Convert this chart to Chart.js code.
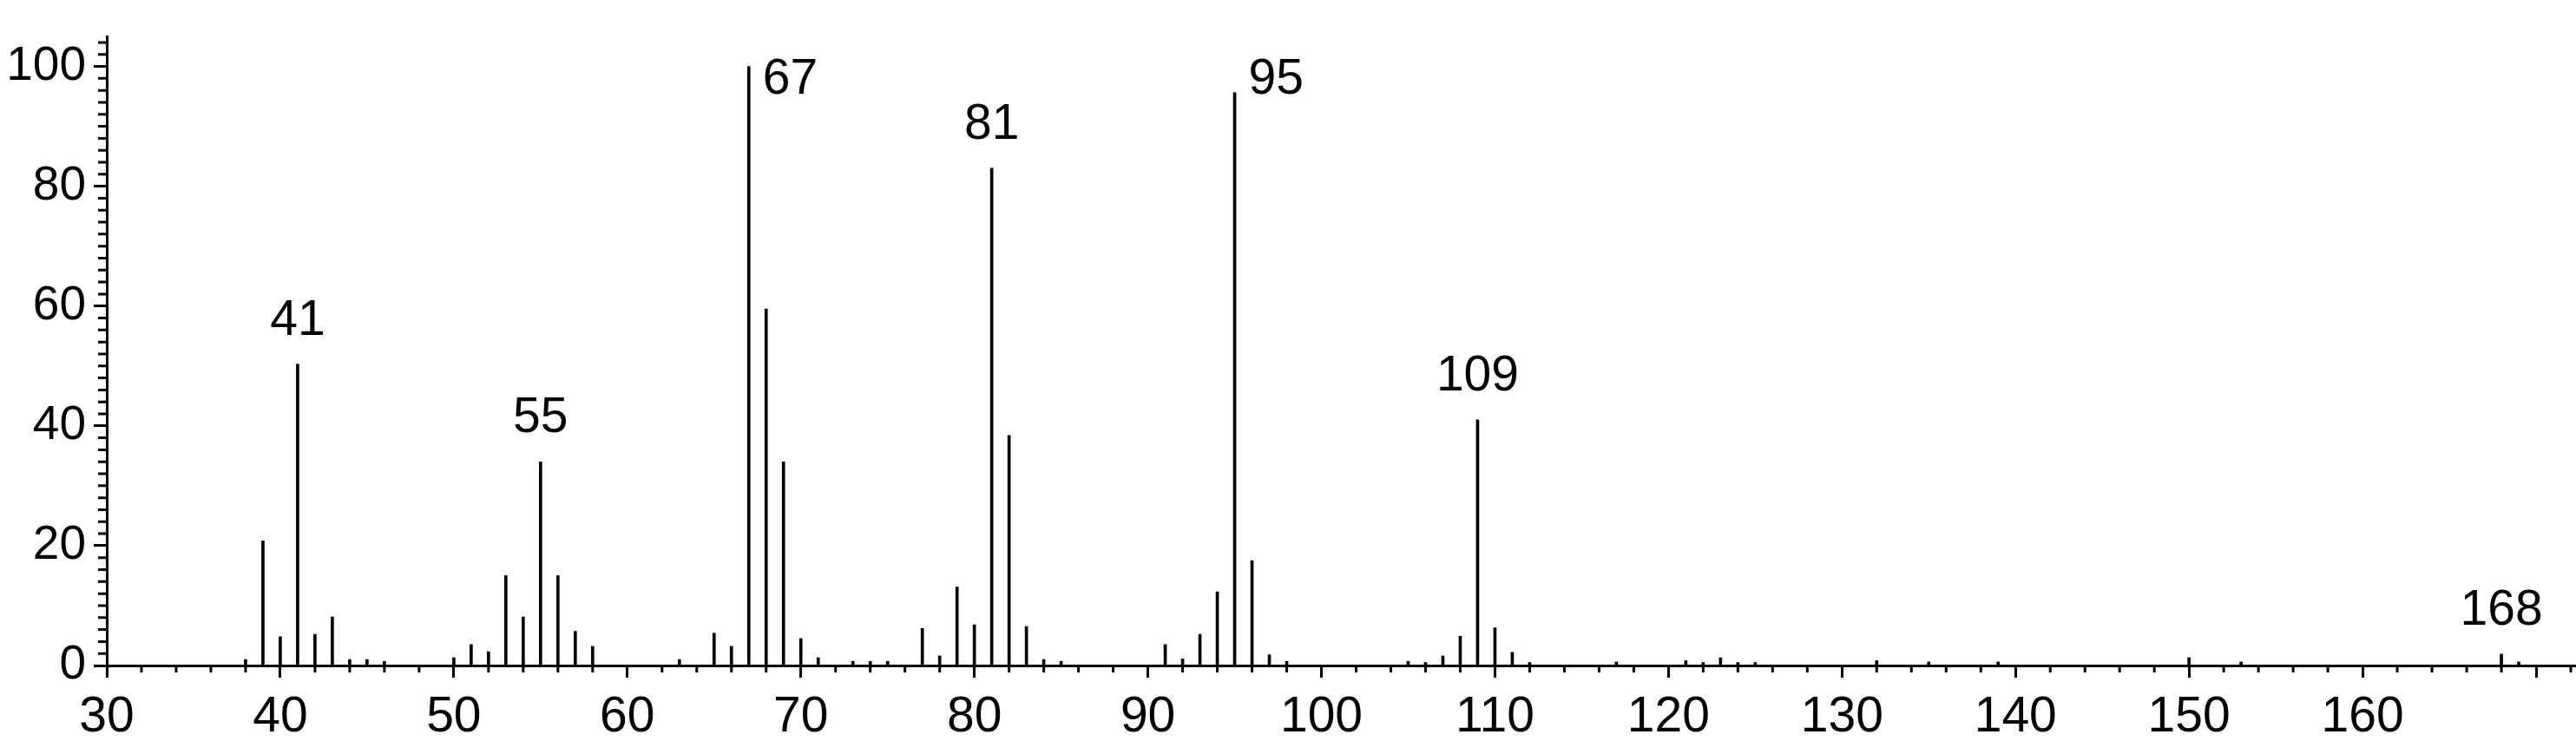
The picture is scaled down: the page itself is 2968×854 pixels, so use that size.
<!DOCTYPE html>
<html>
<head>
<meta charset="utf-8">
<title>Mass spectrum</title>
<script src="https://cdn.jsdelivr.net/npm/chart.js@4.4.0/dist/chart.umd.min.js"></script>
<style>
  html, body { margin: 0; padding: 0; background: #fff; }
  canvas { display: block; }
</style>
</head>
<body>
<canvas id="chart" width="2968" height="854"></canvas>
<script>
// m/z positions and relative intensities
const mz = [38, 39, 40, 41, 42, 43, 44, 45, 46,
            50, 51, 52, 53, 54, 55, 56, 57, 58,
            63, 65, 66, 67, 68, 69, 70, 71, 73, 74, 75,
            77, 78, 79, 80, 81, 82, 83, 84, 85,
            91, 92, 93, 94, 95, 96, 97, 98,
            105, 106, 107, 108, 109, 110, 111, 112,
            117, 121, 122, 123, 124, 125, 132, 135, 139,
            150, 153, 168, 169];
const intensity = [1.0, 20.8, 4.8, 50.3, 5.2, 8.1, 1.0, 1.0, 0.7,
                   1.3, 3.5, 2.3, 15.0, 8.1, 34.0, 15.0, 5.7, 3.2,
                   1.0, 5.4, 3.2, 100, 59.5, 34.0, 4.5, 1.3, 0.7, 0.7, 0.7,
                   6.2, 1.6, 13.1, 6.8, 83.0, 38.4, 6.5, 1.0, 0.7,
                   3.5, 1.1, 5.2, 12.3, 95.6, 17.5, 1.8, 0.7,
                   0.7, 0.5, 1.6, 4.9, 41.0, 6.3, 2.2, 0.5,
                   0.6, 0.8, 0.5, 1.3, 0.5, 0.5, 0.8, 0.6, 0.6,
                   1.3, 0.6, 1.9, 0.6];
const labelledPeaks = [41, 55, 67, 81, 95, 109, 168];
const xTicks = [30, 40, 50, 60, 70, 80, 90, 100, 110, 120, 130, 140, 150, 160, 170];
const yTicks = [0, 20, 40, 60, 80, 100];

const FONT = '"Liberation Sans", Arial, sans-serif';

// minor ticks + peak labels
const spectrumDecor = {
    id: 'spectrumDecor',
    afterDraw(chart) {
        const { ctx, scales: { x, y } } = chart;
        ctx.save();
        ctx.strokeStyle = '#000';
        ctx.lineWidth = 3;
        ctx.beginPath();
        for (let v = 2; v <= y.max; v += 2) {
            if (v % 20 === 0) continue;
            const py = y.getPixelForValue(v);
            ctx.moveTo(x.left - 10, py);
            ctx.lineTo(x.left, py);
        }
        for (let v = 32; v <= x.max; v += 2) {
            if (v % 10 === 0) continue;
            const px = x.getPixelForValue(v);
            ctx.moveTo(px, y.bottom);
            ctx.lineTo(px, y.bottom + 8);
        }
        ctx.stroke();

        ctx.font = '57px ' + FONT;
        ctx.fillStyle = '#000';
        labelledPeaks.forEach(m => {
            const val = intensity[mz.indexOf(m)];
            const px = x.getPixelForValue(m);
            if (val > 90) {
                // tall peaks get the label beside them
                ctx.textAlign = 'left';
                ctx.textBaseline = 'middle';
                ctx.fillText(String(m), px + 16, y.getPixelForValue(100) + 16);
            } else {
                ctx.textAlign = 'center';
                ctx.textBaseline = 'alphabetic';
                ctx.fillText(String(m), px, y.getPixelForValue(val) - 34);
            }
        });
        ctx.restore();
    }
};

const ctx = document.getElementById('chart').getContext('2d');
new Chart(ctx, {
    type: 'bar',
    data: {
        datasets: [{
            data: mz.map((m, i) => ({ x: m, y: intensity[i] })),
            backgroundColor: '#000',
            borderWidth: 0,
            barThickness: 3
        }]
    },
    options: {
        responsive: false,
        animation: false,
        devicePixelRatio: 1,
        layout: { padding: { top: 36, right: 0, left: 0, bottom: 0 } },
        plugins: {
            legend: { display: false },
            tooltip: { enabled: false }
        },
        scales: {
            x: {
                type: 'linear',
                min: 30,
                max: 172.3,
                offset: false,
                afterBuildTicks: s => { s.ticks = xTicks.map(v => ({ value: v })); },
                afterFit: s => { s.height = 87; },
                ticks: {
                    color: '#000',
                    font: { family: FONT, size: 57 },
                    padding: 12,
                    maxRotation: 0,
                    autoSkip: false,
                    callback: v => (v === 170 ? '' : String(v))
                },
                grid: {
                    offset: false,
                    drawOnChartArea: false,
                    drawTicks: true,
                    tickLength: 14,
                    tickWidth: 3,
                    tickColor: '#000'
                },
                border: { display: true, color: '#000', width: 3 }
            },
            y: {
                min: 0,
                max: 105,
                afterBuildTicks: s => { s.ticks = yTicks.map(v => ({ value: v })); },
                afterFit: s => { s.width = 123; },
                ticks: {
                    color: '#000',
                    font: { family: FONT, size: 55 },
                    padding: 9
                },
                grid: {
                    drawOnChartArea: false,
                    drawTicks: true,
                    tickLength: 15,
                    tickWidth: 3,
                    tickColor: '#000'
                },
                border: { display: true, color: '#000', width: 3 }
            }
        }
    },
    plugins: [spectrumDecor]
});
</script>
</body>
</html>
